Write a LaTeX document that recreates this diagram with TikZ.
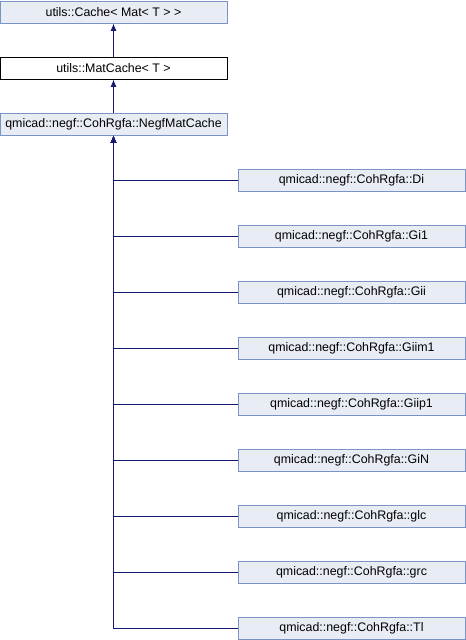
\documentclass[tikz,border=0pt]{standalone}
\usepackage{fontspec}
\setmainfont{Liberation Sans}
\usetikzlibrary{arrows.meta}
\definecolor{boxfill}{RGB}{232,236,245}
\definecolor{boxline}{RGB}{122,148,200}
\definecolor{edge}{RGB}{25,25,112}
\begin{document}
\begin{tikzpicture}[x=0.75pt,y=-0.75pt,
  cls/.style={draw=boxline,fill=boxfill,line width=0.75pt,minimum width=227*0.75pt,minimum height=22*0.75pt,inner sep=0pt,font=\fontsize{9.3pt}{11pt}\selectfont},
  cur/.style={cls,draw=black,fill=white},
  inh/.style={draw=edge,line width=0.75pt,-{Latex[length=5.5pt,width=4.5pt]}}]
\useasboundingbox (0,0) rectangle (466,640);
\node[cls] (cache) at (113.5,12) {utils::Cache< Mat< T > >};
\node[cur] (mat) at (113.5,68) {utils::MatCache< T >};
\node[cls] (negf) at (113.5,124) {qmicad::negf::CohRgfa::NegfMatCache};
\draw[inh] (mat) -- (cache);
\draw[inh] (negf) -- (mat);
\foreach \n/\t/\y in {di/Di/180,gi1/Gi1/236,gii/Gii/292,giim1/Giim1/348,giip1/Giip1/404,gin/GiN/460,glc/glc/516,grc/grc/572,tl/Tl/628}{
  \node[cls] (\n) at (351.5,\y) {qmicad::negf::CohRgfa::\t};
  \draw[inh] (\n.west) -| (negf.south);
}
\end{tikzpicture}
\end{document}
